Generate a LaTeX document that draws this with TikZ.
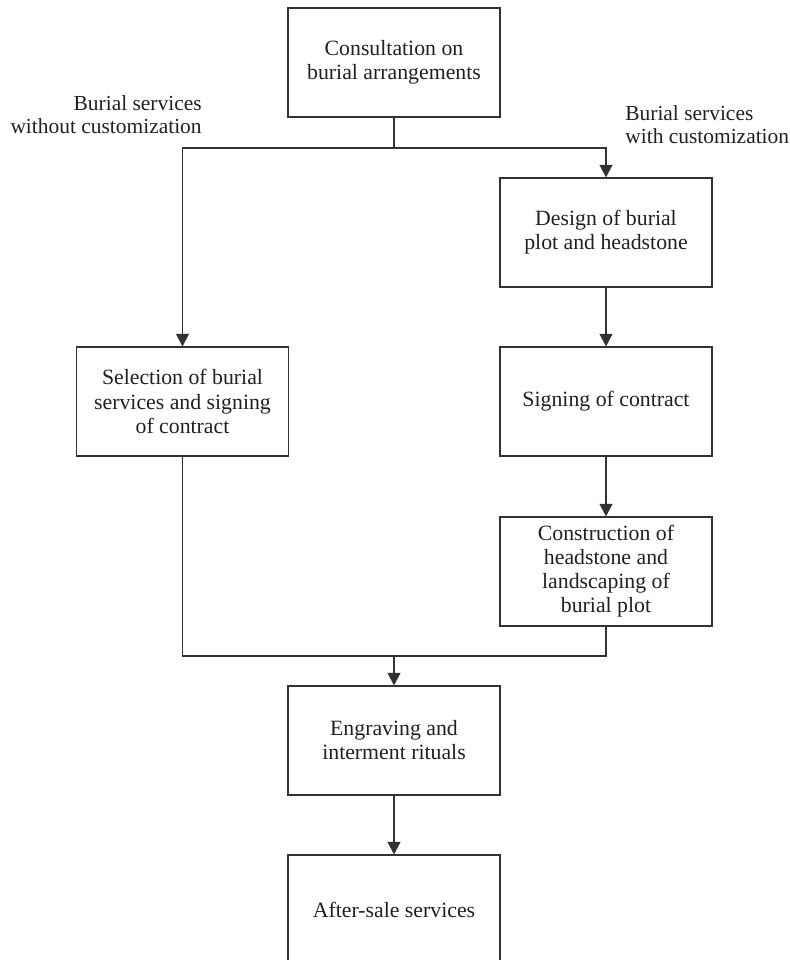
\documentclass[tikz,border=0pt]{standalone}
\usepackage{fontspec}
\setmainfont{Liberation Serif}
\usetikzlibrary{arrows.meta}
\definecolor{lineGray}{RGB}{50, 50, 50}
\definecolor{textBlack}{RGB}{35, 31, 32}

\begin{document}
\begin{tikzpicture}[
    box/.style={draw=lineGray, line width=0.65pt, minimum width=4.24cm, minimum height=2.18cm,
      inner sep=2pt, align=center, text=textBlack, font=\fontsize{12.4}{13.7}\selectfont},
    lbl/.style={inner sep=0pt, text=textBlack, font=\fontsize{12.2}{13.1}\selectfont},
    link/.style={draw=lineGray, line width=0.65pt},
    arr/.style={link, -{Triangle[length=7.2pt, width=7.4pt]}}
  ]
  \useasboundingbox (0,0) rectangle (15.8,-19.2);
  \clip (0,0) rectangle (15.8,-19.2);

  \node[box] (consult) at (7.88,-1.25) {Consultation on\\burial arrangements};
  \node[lbl, anchor=north east, align=right] (nocustom) at (4.04,-1.91) {Burial services\\without customization};
  \node[lbl, anchor=north west, align=left] (custom) at (12.5,-2.11) {Burial services\\with customization};

  % right branch
  \node[box] (design) at (12.12,-4.65) {Design of burial\\plot and headstone};
  \node[box] (signing) at (12.12,-8.03) {Signing of contract};
  \node[box] (construct) at (12.12,-11.43) {Construction of\\headstone and\\landscaping of\\burial plot};

  % left branch
  \node[box] (select) at (3.65,-8.03) {Selection of burial\\services and signing\\of contract};

  \node[box] (engrave) at (7.88,-14.81) {Engraving and\\interment rituals};
  \node[box] (aftersale) at (7.88,-18.19) {After-sale services};

  \coordinate (split) at (7.88,-2.96);
  \coordinate (merge) at (7.88,-13.12);

  \draw[link] (consult) -- (split);
  \draw[arr] (split) -| (select);
  \draw[arr] (split) -| (design);
  \draw[arr] (design) -- (signing);
  \draw[arr] (signing) -- (construct);
  % join both branches
  \draw[link] (select) |- (merge);
  \draw[link] (construct) |- (merge);
  \draw[arr] (merge) -- (engrave);
  \draw[arr] (engrave) -- (aftersale);
\end{tikzpicture}
\end{document}
